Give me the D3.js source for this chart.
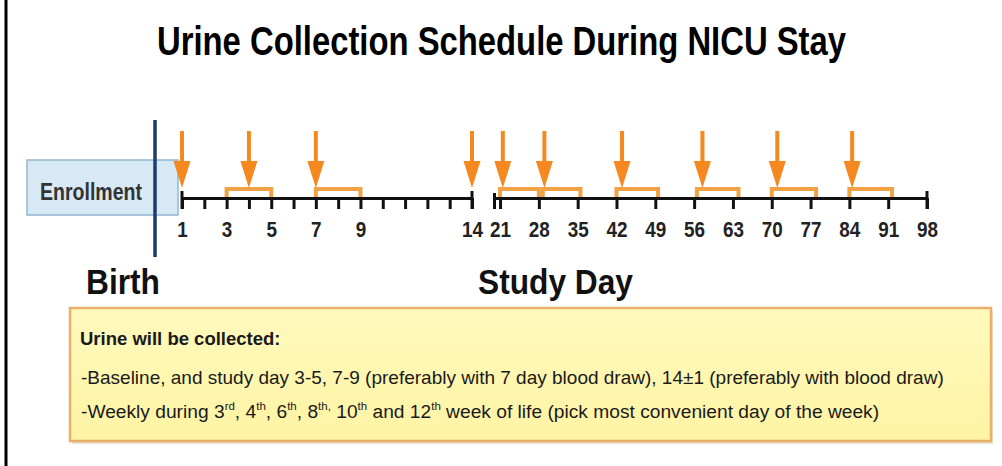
<!DOCTYPE html>
<html>
<head>
<meta charset="utf-8">
<script src="https://cdn.jsdelivr.net/npm/d3@7"></script>
<style>
  body { margin: 0; background: #fff; }
  text { font-family: "Liberation Sans Narrow", "Arial Narrow", "Liberation Sans", Arial, sans-serif; }
  .axis .domain { stroke: #111; stroke-width: 3; }
  .axis .tick line { stroke: #111; stroke-width: 3; }
  .axis .tick text { font-size: 22px; font-weight: bold; fill: #222; }
</style>
</head>
<body>
<svg id="chart" width="1002" height="466"></svg>
<script>
// study days on the first (daily) segment and the second (weekly) segment
var dailyTicks = [1, 2, 3, 4, 5, 6, 7, 8, 9, 10, 11, 12, 13, 14];
var dailyLabels = [1, 3, 5, 7, 9, 14];
var weeklyTicks = [21, 28, 35, 42, 49, 56, 63, 70, 77, 84, 91, 98];

// urine collection days (arrows) and collection windows (brackets)
var arrowDays = [1, 4, 7, 14, 21.5, 29, 43, 57.5, 71, 84.5];
var windowStart = [3, 7, 21, 28.7, 42, 56.5, 70, 84];
var windowEnd = [5, 9, 28, 35.5, 49.5, 64, 78, 91.7];

var title = "Urine Collection Schedule During NICU Stay";
var noteHead = "Urine will be collected";
var noteLine1 = "-Baseline, and study day 3-5, 7-9 (preferably with 7 day blood draw), 14\u00b11 (preferably with blood draw)";
var noteLine2 = [["-Weekly during 3", false], ["rd", true], [", 4", false], ["th", true], [", 6", false], ["th", true],
                 [", 8", false], ["th,", true], [" 10", false], ["th", true], [" and 12", false], ["th", true],
                 [" week of life (pick most convenient day of the week)", false]];

var svg = d3.select("#chart");
var lineY = 198;

// left frame line
svg.append("line")
   .attr("x1", 6).attr("x2", 6).attr("y1", 0).attr("y2", 466)
   .attr("stroke", "#000").attr("stroke-width", 3);

// title
svg.append("text")
   .attr("x", 157).attr("y", 55)
   .attr("font-size", 40).attr("font-weight", "bold")
   .attr("textLength", 689).attr("lengthAdjust", "spacingAndGlyphs")
   .attr("fill", "#000")
   .text(title);

// scales: the axis is broken between day 14 and day 21
var x1 = d3.scaleLinear().domain([1, 14]).range([182, 472]);
var x2 = d3.scaleLinear().domain([20, 98]).range([494.5, 927]);
function xDay(d) { return d <= 14 ? x1(d) : x2(d); }

// enrollment box
svg.append("rect")
   .attr("x", 27).attr("y", 160).attr("width", 151).attr("height", 55)
   .attr("fill", "#d7e9f4").attr("stroke", "#93b7cf").attr("stroke-width", 1.5);
svg.append("text")
   .attr("x", 40).attr("y", 200)
   .attr("font-size", 24).attr("font-weight", "bold").attr("fill", "#333")
   .attr("textLength", 102).attr("lengthAdjust", "spacingAndGlyphs")
   .text("Enrollment");

// axes
var axis1 = d3.axisBottom(x1)
              .tickValues(dailyTicks)
              .tickSize(11).tickSizeOuter(0).tickPadding(12)
              .tickFormat(function(d) { return dailyLabels.indexOf(d) >= 0 ? d : ""; });
var axis2 = d3.axisBottom(x2)
              .tickValues(weeklyTicks)
              .tickSize(11).tickSizeOuter(0).tickPadding(12);

[axis1, axis2].forEach(function(ax) {
    var g = svg.append("g").attr("class", "axis")
               .attr("transform", "translate(0," + lineY + ")")
               .call(ax);
    // condensed look for the day labels
    g.selectAll(".tick text")
     .filter(function() { return this.textContent.length > 0; })
     .attr("textLength", function() { return this.textContent.length * 10.5; })
     .attr("lengthAdjust", "spacingAndGlyphs");
});

// end caps and break mark
var caps = [[x1, 1, 7], [x1, 14, 7], [x2, 20, 5], [x2, 98, 7]];
svg.selectAll("line.cap")
   .data(caps)
   .enter()
   .append("line")
   .attr("class", "cap")
   .attr("x1", function(d) { return d[0](d[1]); })
   .attr("x2", function(d) { return d[0](d[1]); })
   .attr("y1", function(d) { return lineY - d[2]; })
   .attr("y2", lineY + 11)
   .attr("stroke", "#111").attr("stroke-width", 3);

// collection windows
svg.selectAll("path.window")
   .data(windowStart)
   .enter()
   .append("path")
   .attr("class", "window")
   .attr("d", function(d, i) {
       var a = xDay(d), b = xDay(windowEnd[i]);
       return "M" + a + "," + (lineY - 1) + "V" + (lineY - 9) + "H" + b + "V" + (lineY - 1);
   })
   .attr("fill", "none")
   .attr("stroke", "#f0a245").attr("stroke-width", 4);

// arrows
svg.selectAll("path.arrow")
   .data(arrowDays)
   .enter()
   .append("path")
   .attr("class", "arrow")
   .attr("d", function(d) {
       var x = xDay(d);
       return "M" + (x - 2) + ",131V161H" + (x - 8.5) + "L" + x + ",188L" + (x + 8.5) + ",161H" + (x + 2) + "V131Z";
   })
   .attr("fill", "#f5881f");

// birth line
svg.append("line")
   .attr("x1", 155).attr("x2", 155).attr("y1", 120).attr("y2", 257)
   .attr("stroke", "#1f3a6b").attr("stroke-width", 3.5);

svg.append("text")
   .attr("x", 86).attr("y", 294)
   .attr("font-size", 35).attr("font-weight", "bold").attr("fill", "#111")
   .attr("textLength", 74).attr("lengthAdjust", "spacingAndGlyphs")
   .text("Birth");

svg.append("text")
   .attr("x", 478).attr("y", 294)
   .attr("font-size", 35).attr("font-weight", "bold").attr("fill", "#111")
   .attr("textLength", 155).attr("lengthAdjust", "spacingAndGlyphs")
   .text("Study Day");

// note box
var defs = svg.append("defs");
var grad = defs.append("linearGradient").attr("id", "noteFill")
               .attr("x1", 0).attr("x2", 0).attr("y1", 0).attr("y2", 1);
grad.append("stop").attr("offset", "0%").attr("stop-color", "#fff9bd");
grad.append("stop").attr("offset", "100%").attr("stop-color", "#fff4a4");

svg.append("rect")
   .attr("x", 72).attr("y", 311).attr("width", 921).attr("height", 133)
   .attr("fill", "#e9e2d0");
svg.append("rect")
   .attr("x", 70).attr("y", 308).attr("width", 921).attr("height", 133)
   .attr("fill", "url(#noteFill)").attr("stroke", "#e8b06a").attr("stroke-width", 2.5);

svg.append("text")
   .attr("x", 80).attr("y", 345)
   .attr("font-size", 18.5).attr("font-weight", "bold").attr("fill", "#1a1a1a")
   .text(noteHead + ":");

svg.append("text")
   .attr("x", 81).attr("y", 384)
   .attr("font-size", 19).attr("fill", "#1a1a1a")
   .text(noteLine1);

var line2 = svg.append("text")
   .attr("x", 81).attr("y", 418)
   .attr("font-size", 19.2).attr("fill", "#1a1a1a");
line2.selectAll("tspan")
   .data(noteLine2)
   .enter()
   .append("tspan")
   .attr("font-size", function(d) { return d[1] ? 11.5 : 19.2; })
   .attr("dy", function(d, i) {
       if (d[1]) return -8;
       return (i > 0 && noteLine2[i - 1][1]) ? 8 : 0;
   })
   .text(function(d) { return d[0]; });
</script>
</body>
</html>
